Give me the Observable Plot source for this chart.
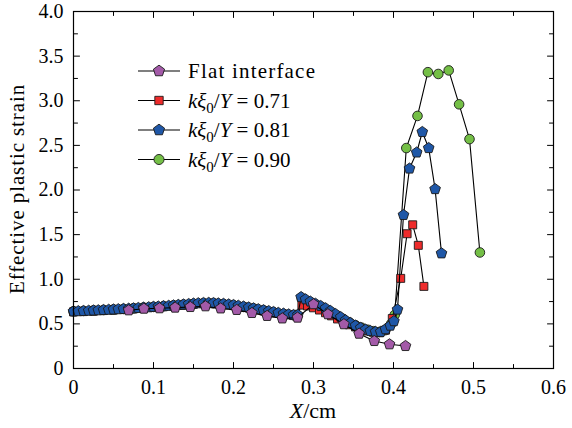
<!DOCTYPE html>
<html><head><meta charset="utf-8">
<script src="https://cdn.jsdelivr.net/npm/d3@7"></script>
<script src="https://cdn.jsdelivr.net/npm/@observablehq/plot@0.6"></script>
<style>body{margin:0;background:#fff} svg text{font-family:'Liberation Serif',serif !important}</style>
</head><body><div id="chart"></div>
<script>
// ---- data ----
const flatX = [0.069,0.088,0.1075,0.127,0.146,0.165,0.184,0.204,0.223,0.242,0.261,0.280,0.300,0.318,0.338,0.357,0.376,0.395,0.415];
const flatY = [0.652,0.670,0.675,0.682,0.689,0.697,0.673,0.656,0.622,0.589,0.561,0.570,0.720,0.608,0.496,0.390,0.308,0.271,0.252];

const k071X = [0,0.0125,0.025,0.0375,0.05,0.0625,0.075,0.0875,0.1,0.1125,0.125,0.1375,0.15,0.1625,0.175,0.1875,0.2,0.2125,0.225,0.2375,0.25,0.2625,0.275,
  0.2785,0.2855,0.2925,0.3,0.3075,0.315,0.3225,0.33,0.3375,0.345,0.3525,0.36,0.3675,0.375,0.3825,0.39,0.3985,
  0.409,0.417,0.424,0.431,0.438];
const k071Y = [0.635,0.638,0.643,0.650,0.656,0.662,0.669,0.677,0.685,0.693,0.701,0.711,0.720,0.727,0.727,0.718,0.705,0.688,0.668,0.647,0.627,0.608,0.594,
  0.59,0.71,0.70,0.68,0.655,0.625,0.59,0.555,0.52,0.49,0.465,0.44,0.42,0.405,0.40,0.43,0.56,
  1.01,1.51,1.61,1.38,0.92];

const k081X = [0,0.006,0.0125,0.019,0.025,0.031,0.0375,0.044,0.05,0.056,0.0625,0.069,0.075,0.081,0.0875,0.094,0.1,0.106,0.1125,0.119,
  0.125,0.131,0.1375,0.144,0.15,0.156,0.1625,0.169,0.175,0.181,0.1875,0.194,0.2,0.206,0.2125,0.219,0.225,0.231,0.2375,0.244,
  0.25,0.256,0.2625,0.269,0.275,0.2805,0.2845,0.29,0.296,0.3025,0.309,0.315,0.321,0.3275,0.334,0.34,0.346,0.3525,0.359,0.365,
  0.371,0.3775,0.384,0.39,0.396,0.4005,0.405,
  0.4125,0.420,0.429,0.436,0.444,0.452,0.460];
const k081Y = [0.640,0.642,0.644,0.647,0.650,0.652,0.655,0.658,0.661,0.664,0.667,0.670,0.674,0.678,0.682,0.686,0.690,0.694,0.698,0.702,
  0.707,0.712,0.717,0.722,0.727,0.731,0.734,0.735,0.733,0.729,0.724,0.718,0.711,0.703,0.694,0.684,0.674,0.664,0.653,0.643,
  0.633,0.623,0.614,0.606,0.599,0.600,0.800,0.775,0.750,0.725,0.700,0.675,0.645,0.610,0.575,0.540,0.510,0.480,0.455,0.435,
  0.420,0.410,0.410,0.440,0.480,0.530,0.660,
  1.72,2.24,2.42,2.65,2.47,2.01,1.29];

const k090X = [0,0.0125,0.025,0.0375,0.05,0.0625,0.075,0.0875,0.1,0.1125,0.125,0.1375,0.15,0.1625,0.175,0.1875,0.2,0.2125,0.225,0.2375,0.25,0.2625,0.275,
  0.2785,0.2855,0.2925,0.3,0.3075,0.315,0.3225,0.33,0.3375,0.345,0.3525,0.36,0.3675,0.375,0.3825,0.39,0.397,
  0.4015,0.416,0.430,0.443,0.456,0.469,0.482,0.495,0.508];
const k090Y = [0.64,0.645,0.65,0.655,0.66,0.667,0.674,0.682,0.69,0.698,0.706,0.715,0.724,0.73,0.73,0.722,0.708,0.69,0.67,0.65,0.63,0.612,0.598,
  0.60,0.78,0.75,0.72,0.69,0.655,0.62,0.585,0.55,0.515,0.485,0.458,0.435,0.418,0.41,0.43,0.50,
  0.60,2.47,2.83,3.32,3.30,3.34,2.96,2.57,1.30];

const xMajor = [0,0.1,0.2,0.3,0.4,0.5,0.6];
const xMinor = [0.05,0.15,0.25,0.35,0.45,0.55];
const yMajor = [0,0.5,1.0,1.5,2.0,2.5,3.0,3.5,4.0];
const yMinor = [0.25,0.75,1.25,1.75,2.25,2.75,3.25,3.75];

const seriesNames = ["Flat interface","0.71","0.81","0.90"];
const seriesColors = ["#a35aa8","#ee2b2b","#1f57a7","#74bf46"];
// ---------------------------------------

const pentagon = {
  draw(ctx, size) {
    const R = Math.sqrt(size / Math.PI) * 1.12;
    for (let i = 0; i < 5; i++) {
      const a = -Math.PI / 2 + i * 2 * Math.PI / 5;
      const px = R * Math.cos(a), py = R * Math.sin(a);
      if (i === 0) ctx.moveTo(px, py); else ctx.lineTo(px, py);
    }
    ctx.closePath();
  }
};
const symbols = [pentagon, "square", pentagon, "circle"];
const radii = [5, 4.5, 5, 4.8];

const mk = (X, Y) => X.map((x, i) => ({x, y: Y[i]}));
const data = [mk(flatX, flatY), mk(k071X, k071Y), mk(k081X, k081Y), mk(k090X, k090Y)];

const fmt = d => d === 0 ? "0" : d.toFixed(1);
const drawOrder = [3, 1, 2, 0];
const seriesMarks = drawOrder.flatMap(s => [
  Plot.line(data[s], {x: "x", y: "y", stroke: "black", strokeWidth: 1.1}),
  Plot.dot(data[s], {x: "x", y: "y", symbol: symbols[s], r: radii[s], fill: seriesColors[s], stroke: "#1a1a1a", strokeWidth: 0.9})
]);

// inward tick shape for vectors
const stick = {draw(ctx, l) { ctx.moveTo(0, 0); ctx.lineTo(0, -l); }};
const tickOpts = {stroke: "black", strokeWidth: 1, shape: stick, anchor: "start"};
const ticksX = (vals, len) => [
  Plot.vector(vals, {x: d => d, frameAnchor: "bottom", rotate: 0, length: len, ...tickOpts}),
  Plot.vector(vals, {x: d => d, frameAnchor: "top", rotate: 180, length: len, ...tickOpts})
];
const ticksY = (vals, len) => [
  Plot.vector(vals, {y: d => d, frameAnchor: "left", rotate: 90, length: len, ...tickOpts}),
  Plot.vector(vals, {y: d => d, frameAnchor: "right", rotate: -90, length: len, ...tickOpts})
];

const chart = Plot.plot({
  width: 572, height: 428,
  marginLeft: 73, marginRight: 19, marginTop: 11, marginBottom: 60,
  x: {domain: [0, 0.6]},
  y: {domain: [0, 4]},
  style: {fontFamily: "'Liberation Serif', serif", fontSize: "20px", color: "black", background: "white"},
  marks: [
    ...seriesMarks,
    Plot.axisX({ticks: xMajor, tickSize: 0, tickPadding: 11, tickFormat: fmt, label: null}),
    Plot.axisY({ticks: yMajor, tickSize: 0, tickPadding: 10, tickFormat: fmt, label: null}),
    ...ticksX(xMajor, 6), ...ticksX(xMinor, 4),
    ...ticksY(yMajor, 6), ...ticksY(yMinor, 4),
    Plot.frame({stroke: "black", strokeWidth: 1.2})
  ]
});
document.getElementById("chart").appendChild(chart);

// labels and legend (rich text)
const svg = d3.select(chart);
const xl = svg.append("text").attr("x", 313).attr("y", 418).attr("text-anchor", "middle")
  .attr("font-size", 22).attr("fill", "black");
xl.append("tspan").attr("font-style", "italic").text("X");
xl.append("tspan").text("/cm");

svg.append("text").attr("transform", "translate(24,189) rotate(-90)").attr("text-anchor", "middle")
  .attr("font-size", 21).attr("letter-spacing", "0.9px").attr("fill", "black")
  .text("Effective plastic strain");

const lg = svg.append("g");
seriesNames.forEach((name, i) => {
  const cy = 71 + i * 29.5;
  lg.append("line").attr("x1", 138).attr("x2", 180).attr("y1", cy).attr("y2", cy)
    .attr("stroke", "black").attr("stroke-width", 1.1);
  const sym = symbols[i] === "square" ? d3.symbolSquare : symbols[i] === "circle" ? d3.symbolCircle : pentagon;
  lg.append("path").attr("d", d3.symbol(sym, Math.PI * radii[i] * radii[i] * 1.1)())
    .attr("transform", `translate(159,${cy})`)
    .attr("fill", seriesColors[i]).attr("stroke", "#1a1a1a").attr("stroke-width", 0.9);
  const t = lg.append("text").attr("x", 188).attr("y", cy + 7).attr("text-anchor", "start")
    .attr("font-size", 21).attr("fill", "black");
  if (i === 0) {
    t.attr("letter-spacing", "1.2px").text(name);
  } else {
    t.append("tspan").attr("font-style", "italic").text("kξ");
    t.append("tspan").attr("font-size", 15).attr("dy", 5).text("0");
    t.append("tspan").attr("dy", -5).text("/");
    t.append("tspan").attr("font-style", "italic").text("Y");
    t.append("tspan").text(" = " + name);
  }
});
</script></body></html>
